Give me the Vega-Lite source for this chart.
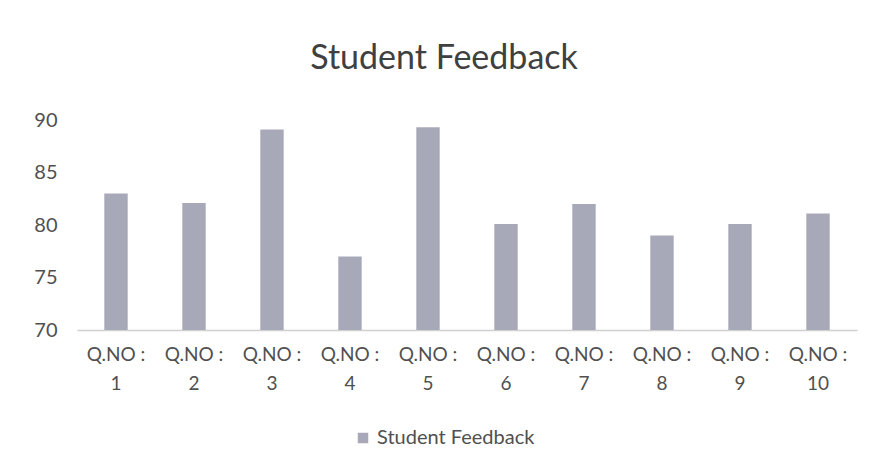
{
  "$schema": "https://vega.github.io/schema/vega-lite/v6.json",
  "autosize": "none",
  "width": 780,
  "height": 210,
  "padding": {"left": 77, "top": 120, "right": 16, "bottom": 144},
  "background": "white",
  "title": {"text": "Student Feedback", "font": "Lato", "fontSize": 34, "fontWeight": "normal", "color": "#404040", "offset": 34, "dx": -23, "anchor": "middle"},
  "data": {"values": [
    {"q": "Q.NO : 1", "score": 83.0, "series": "Student Feedback"},
    {"q": "Q.NO : 2", "score": 82.1, "series": "Student Feedback"},
    {"q": "Q.NO : 3", "score": 89.1, "series": "Student Feedback"},
    {"q": "Q.NO : 4", "score": 77.0, "series": "Student Feedback"},
    {"q": "Q.NO : 5", "score": 89.3, "series": "Student Feedback"},
    {"q": "Q.NO : 6", "score": 80.1, "series": "Student Feedback"},
    {"q": "Q.NO : 7", "score": 82.0, "series": "Student Feedback"},
    {"q": "Q.NO : 8", "score": 79.0, "series": "Student Feedback"},
    {"q": "Q.NO : 9", "score": 80.1, "series": "Student Feedback"},
    {"q": "Q.NO : 10", "score": 81.1, "series": "Student Feedback"}
  ]},
  "mark": {"type": "bar"},
  "encoding": {
    "x": {"field": "q", "type": "nominal", "sort": null,
      "scale": {"paddingInner": 0.7, "paddingOuter": 0.35},
      "axis": {"title": null, "labelAngle": 0, "labelExpr": "[slice(datum.label,0,6), slice(datum.label,7)]",
        "labelFont": "Lato", "labelFontSize": 19, "labelColor": "#505050", "labelPadding": 15, "labelLineHeight": 29,
        "ticks": false, "domainColor": "#d0d0d0", "domainWidth": 1.5}},
    "y": {"field": "score", "type": "quantitative",
      "scale": {"domain": [70, 90], "zero": false, "clamp": true},
      "axis": {"title": null, "values": [70, 75, 80, 85, 90], "grid": false, "domain": false, "ticks": false,
        "labelFont": "Lato", "labelFontSize": 20, "labelColor": "#505050", "labelPadding": 20}},
    "color": {"field": "series", "type": "nominal",
      "scale": {"range": ["#a7a9b9"]},
      "legend": {"title": null, "orient": "none", "legendX": 276, "legendY": 308, "symbolType": "square", "symbolSize": 110,
        "labelFont": "Lato", "labelFontSize": 20, "labelColor": "#505050", "labelLimit": 400}}
  },
  "config": {"view": {"stroke": null}}
}
